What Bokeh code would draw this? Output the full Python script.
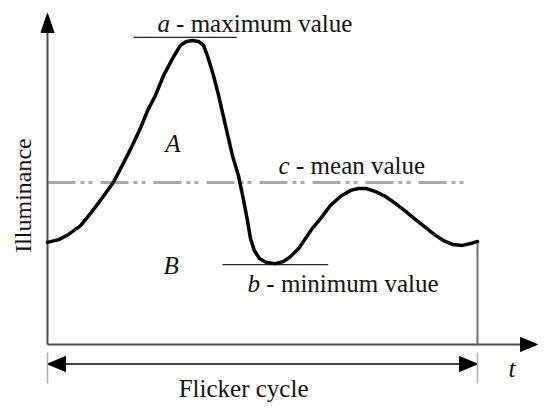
import math
from bokeh.plotting import figure
from bokeh.models import Range1d
from bokeh.core.properties import value
from bokeh.embed import file_html
from bokeh.resources import INLINE

# ---- data: time in % of one flicker cycle, illuminance in % of the maximum ----
t = [0, 2.6, 4.9, 7.7, 10.0, 12.3, 15.3, 17.4, 19.5, 21.6, 23.3, 25.1, 27.0, 29.1,
     30.9, 32.3, 33.7, 35.1, 36.3, 37.4, 38.6, 39.8, 41.4, 43.0, 44.4, 45.6, 46.5,
     47.2, 48.1, 49.3, 50.9, 53.0, 54.9, 56.5, 58.4, 60.0, 61.6, 63.5, 65.8, 68.1,
     70.5, 72.3, 74.2, 76.3, 78.6, 80.9, 83.3, 85.6, 87.9, 90.2, 92.1, 94.2, 96.5,
     98.4, 100]
illuminance = [33.6, 34.5, 36.2, 39.1, 43.1, 47.4, 53.3, 58.9, 64.8, 71.1, 77.0, 81.9,
               88.5, 94.1, 98.4, 99.7, 100.0, 99.7, 98.4, 94.1, 88.5, 81.9, 72.0, 62.2,
               55.6, 47.4, 40.8, 34.9, 30.9, 28.3, 27.0, 26.6, 27.3, 28.9, 31.6, 34.9,
               38.2, 41.4, 45.7, 48.7, 50.7, 51.3, 51.3, 50.3, 48.7, 46.4, 43.8, 41.1,
               38.5, 35.9, 34.2, 32.9, 32.6, 33.2, 33.9]
mean_level = 53.3
max_level = 101.0
min_level = 26.3
mean_span = [0.0, 97.7]
max_span = [20.0, 44.0]
min_span = [40.7, 65.3]
cycle = [0.0, 100.0]

W, H = 550, 415
X0, X1 = -10.93, 116.98
Y0, Y1 = -23.36, 113.16
px_x = (X1 - X0) / W   # data units per screen pixel
px_y = (Y1 - Y0) / H

p = figure(width=W, height=H, output_backend="svg", toolbar_location=None,
           x_range=Range1d(X0, X1), y_range=Range1d(Y0, Y1), min_border=0,
           background_fill_color="white", border_fill_color="white")
p.axis.visible = False
p.grid.visible = False
p.outline_line_color = None

FONT = value("Liberation Serif")
TXT = "#111111"
AX = "#4d4d4d"

# mean value line (dash-dot-dot)
p.line(mean_span, [mean_level, mean_level], line_color="#a8a8a8", line_width=3,
       line_dash="28 5 4 4 4 8")

# axes
y_tip = Y1 - 13 * px_y
y_base = y_tip - 19 * px_y
p.line([0, 0], [0, y_base], line_color=AX, line_width=2)
p.patch([0, -6.5 * px_x, 6.5 * px_x], [y_tip, y_base, y_base], color="black")
x_tip = cycle[1] + 60 * px_x
x_base = x_tip - 17 * px_x
p.line([0, x_base], [0, 0], line_color=AX, line_width=2)
p.patch([x_tip, x_base, x_base], [0, 7 * px_y, -7 * px_y], color="black")

# end of cycle vertical line
p.line([cycle[1], cycle[1]], [illuminance[-1], 0], line_color="#6e6e6e", line_width=2)

# flicker cycle double arrow + ticks
ya = -19.5 * px_y
hl, hw = 18 * px_x, 7.5 * px_y
p.line([cycle[0] + hl, cycle[1] - hl], [ya, ya], line_color="#404040", line_width=2)
p.patch([cycle[0], cycle[0] + hl, cycle[0] + hl], [ya, ya + hw, ya - hw], color="black")
p.patch([cycle[1], cycle[1] - hl, cycle[1] - hl], [ya, ya + hw, ya - hw], color="black")
for c in cycle:
    p.line([c, c], [-8 * px_y, -39 * px_y], line_color="#b0b0b0", line_width=1.5)

# max / min reference lines
p.line(max_span, [max_level, max_level], line_color="#222222", line_width=1.2)
p.line(min_span, [min_level, min_level], line_color="#222222", line_width=1.2)

# flicker curve
p.line(t, illuminance, line_color="black", line_width=3.5, line_join="round",
       line_cap="round")

LIFT = 7 * px_y  # the svg baseline sits a little low; lift texts

def label(x, y, s, style="normal", align="left", size="25px", angle=0.0):
    p.text(x=[x], y=[y + (LIFT if angle == 0 else 0)], text=[s], text_font=FONT,
           text_font_size=size, text_font_style=style, text_color=TXT,
           text_align=align, text_baseline="alphabetic", angle=angle)

label(25.6, 103.3, "a", "italic")
label(29.9, 103.3, "- maximum value")
label(53.7, 56.6, "c", "italic")
label(57.8, 56.6, "- mean value")
label(46.5, 17.8, "b", "italic")
label(50.9, 17.8, "- minimum value")
label(27.4, 63.8, "A", "italic")
label(27.0, 23.7, "B", "italic")
label(107.2, -10.2, "t", "italic")
label(45.6, -16.8, "Flicker cycle", align="center")
label(-4.0 - 7 * px_x, 49.0, "Illuminance", align="center", size="24px", angle=math.pi / 2)

open("out.html", "w").write(file_html(p, INLINE))
